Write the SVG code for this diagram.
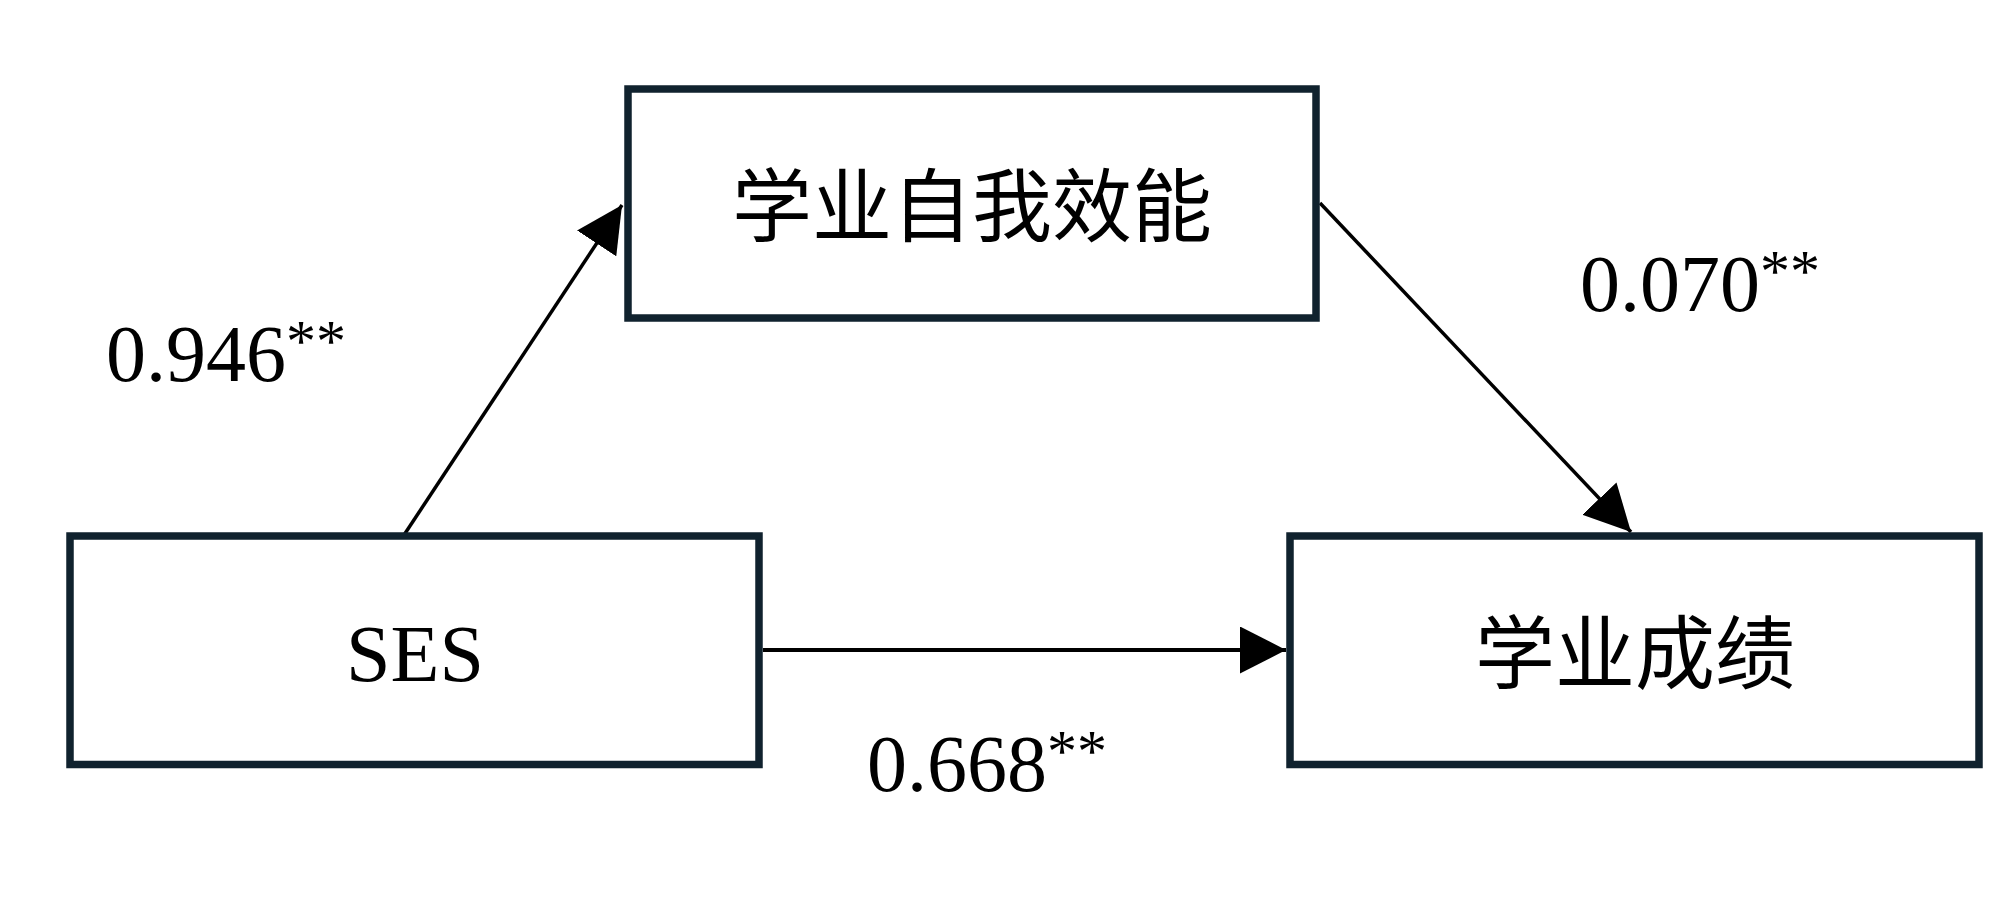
<svg xmlns="http://www.w3.org/2000/svg" width="2000" height="909" viewBox="0 0 2000 909">
  <style>
    .box { fill: #ffffff; stroke: #10222e; stroke-width: 7.5; }
    .edge { stroke: #000000; fill: none; }
    .cjk { font-family: "Noto Sans CJK SC", "Liberation Serif", serif; font-size: 80px; fill: #000000; text-anchor: middle; }
    .lat { font-family: "Liberation Serif", "Noto Sans CJK SC", serif; font-size: 80px; fill: #000000; }
    .sup { font-size: 60px; }
  </style>
  <defs>
    <marker id="arrow" markerUnits="userSpaceOnUse" markerWidth="48" markerHeight="48" refX="46" refY="23.5" orient="auto" viewBox="0 0 48 48">
      <path d="M0,0 L46,23.5 L0,47 z" fill="#000000"/>
    </marker>
  </defs>
  <rect width="2000" height="909" fill="#ffffff"/>

  <g id="connectors">
    <line class="edge" x1="404" y1="535" x2="622" y2="205" stroke-width="3.5" marker-end="url(#arrow)"/>
    <line class="edge" x1="1320" y1="203" x2="1631" y2="532" stroke-width="3.5" marker-end="url(#arrow)"/>
    <line class="edge" x1="763" y1="650" x2="1286" y2="650" stroke-width="4" marker-end="url(#arrow)"/>
  </g>

  <g id="node-efficacy">
    <rect class="box" x="628" y="89" width="688" height="229"/>
    <text class="cjk" x="972" y="235">学业自我效能</text>
  </g>

  <g id="node-ses">
    <rect class="box" x="70" y="536" width="689" height="228.5"/>
    <text class="lat" x="415" y="681" text-anchor="middle">SES</text>
  </g>

  <g id="node-achievement">
    <rect class="box" x="1290" y="536" width="689" height="228.5"/>
    <text class="cjk" x="1635" y="682">学业成绩</text>
  </g>

  <g id="labels">
    <text class="lat" x="106" y="381">0.946<tspan class="sup" dy="-20">**</tspan></text>
    <text class="lat" x="1580" y="311">0.070<tspan class="sup" dy="-20">**</tspan></text>
    <text class="lat" x="867" y="791">0.668<tspan class="sup" dy="-20">**</tspan></text>
  </g>
</svg>
